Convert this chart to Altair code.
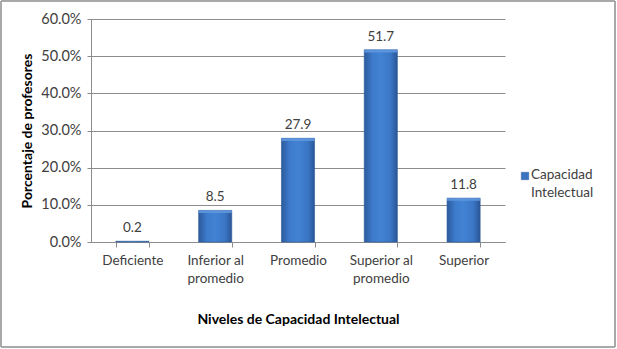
import altair as alt
import pandas as pd

categories = ["Deficiente", "Inferior al promedio", "Promedio", "Superior al promedio", "Superior"]
values = [0.2, 8.5, 27.9, 51.7, 11.8]
series = "Capacidad Intelectual"
y_ticks = [0, 10, 20, 30, 40, 50, 60]

df = pd.DataFrame({"nivel": categories, "valor": values, "serie": [series] * len(categories)})
legend_df = pd.DataFrame({"serie": [series]})

FONT = "Lato"
TXT = "#404040"
GRID = "#8c8c8c"
BAR = "#3a73c0"

label_expr = ("datum.label == 'Inferior al promedio' ? ['Inferior al', 'promedio'] : "
              "datum.label == 'Superior al promedio' ? ['Superior al', 'promedio'] : datum.label")

x_enc = alt.X("nivel:N", sort=categories,
              scale=alt.Scale(paddingInner=0.6, paddingOuter=0.3),
              axis=alt.Axis(title="Niveles de Capacidad Intelectual", labelAngle=0,
                            labelExpr=label_expr, labelFontSize=13.5, labelColor=TXT,
                            labelFont=FONT, labelPadding=6, labelLineHeight=18,
                            tickBand="extent", tickSize=5, tickColor=GRID,
                            domainColor=GRID, titleFont=FONT, titleFontSize=14,
                            titleFontWeight="bold", titleColor="#000000",
                            titlePadding=28))
y_enc = alt.Y("valor:Q", scale=alt.Scale(domain=[0, 60], nice=False),
              axis=alt.Axis(title="Porcentaje de profesores", values=y_ticks, tickCount=7,
                            labelOverlap=False,
                            labelExpr="format(datum.value, '.1f') + '%'",
                            labelFontSize=14.5, labelColor=TXT, labelFont=FONT, labelPadding=6,
                            tickSize=4, tickColor=GRID, domainColor=GRID,
                            gridColor=GRID, gridWidth=1,
                            titleFont=FONT, titleFontSize=14, titleFontWeight="bold",
                            titleColor="#000000", titlePadding=6))

base = alt.Chart(df)

grad = alt.Gradient(
    gradient="linear", x1=0, x2=1, y1=0, y2=0,
    stops=[alt.GradientStop(color="#2c5a9c", offset=0),
           alt.GradientStop(color="#3d7bcc", offset=0.25),
           alt.GradientStop(color="#4283d4", offset=0.5),
           alt.GradientStop(color="#3a76c4", offset=0.8),
           alt.GradientStop(color="#2a5596", offset=1)],
)
bars = base.mark_bar(fill=grad, stroke="#2b5a9a", strokeWidth=0.6).encode(
    x=x_enc, y=y_enc)

caps = base.mark_bar(fill="#5f97de", opacity=0.9).encode(
    x=x_enc, y=alt.Y("valor:Q"),
    y2=alt.Y2("valor_top:Q"),
).transform_calculate(valor_top="max(datum.valor - 0.7, 0)").transform_filter("datum.valor > 1")

labels = base.mark_text(dy=-13, font=FONT, fontSize=13.5, color=TXT).encode(
    x=alt.X("nivel:N", sort=categories), y=alt.Y("valor:Q"),
    text=alt.Text("valor:Q", format=".1f"))

# legend (manual, to control line spacing)
leg_sym = alt.Chart(legend_df).mark_square(size=55, fill=BAR, stroke="#2a5a9e",
                                           strokeWidth=0.5, opacity=1).encode(
    x=alt.value(434), y=alt.value(157))
leg_txt = alt.Chart(legend_df).mark_text(align="left", baseline="middle", lineBreak=" ",
                                         lineHeight=17.5, font=FONT, fontSize=13.5,
                                         color=TXT).encode(
    x=alt.value(440), y=alt.value(156), text="serie:N")

frame = base.mark_rect(fill=None, stroke="#a6a6a6", strokeWidth=1).encode(
    x=alt.value(-90), x2=alt.value(524), y=alt.value(-18), y2=alt.value(328))

chart = alt.layer(bars, caps, labels, leg_sym, leg_txt, frame).properties(
    width=414, height=223,
    autosize=alt.AutoSizeParams(type="none"),
    padding={"left": 91, "top": 19, "right": 112, "bottom": 107},
    background="#ffffff",
).configure_view(stroke=None)

chart.save("out.html", embed_options={"renderer": "svg", "actions": False})
